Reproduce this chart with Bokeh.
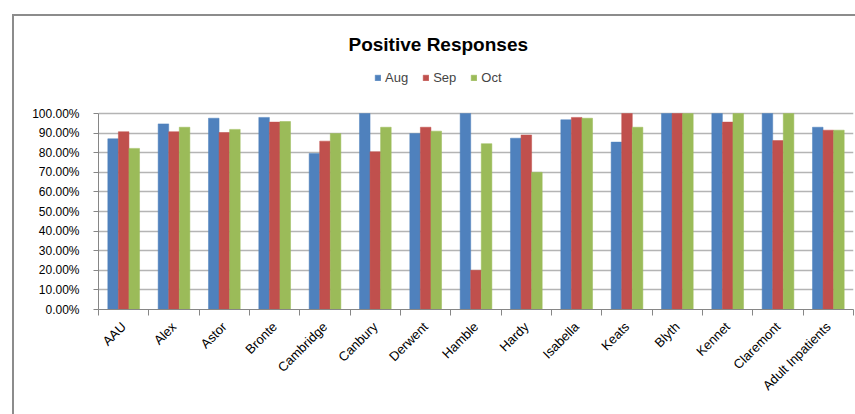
import numpy as np
from bokeh.plotting import figure
from bokeh.models import ColumnDataSource, Range1d, FixedTicker, NumeralTickFormatter, Legend, LegendItem
from bokeh.transform import dodge
from bokeh.embed import file_html
from bokeh.resources import INLINE

wards = ["AAU", "Alex", "Astor", "Bronte", "Cambridge", "Canbury", "Derwent", "Hamble",
         "Hardy", "Isabella", "Keats", "Blyth", "Kennet", "Claremont", "Adult Inpatients"]
aug = [0.871, 0.947, 0.976, 0.980, 0.796, 1.000, 0.898, 1.000, 0.874, 0.968, 0.854, 1.000, 1.000, 1.000, 0.930]
sep = [0.907, 0.907, 0.903, 0.956, 0.859, 0.805, 0.930, 0.200, 0.890, 0.980, 1.000, 1.000, 0.956, 0.862, 0.915]
oct_ = [0.822, 0.930, 0.919, 0.959, 0.898, 0.930, 0.910, 0.846, 0.700, 0.976, 0.930, 1.000, 1.000, 1.000, 0.915]
series_names = ["Aug", "Sep", "Oct"]
colors = ["#4F81BD", "#C0504D", "#9BBB59"]
y_ticks = [i / 10 for i in range(11)]

xpos = np.arange(len(wards)) + 0.5
src = ColumnDataSource(dict(x=xpos, Aug=aug, Sep=sep, Oct=oct_))

FONT = "Liberation Sans"

p = figure(width=843, height=400, output_backend="svg", toolbar_location=None,
           x_range=Range1d(0, len(wards)), y_range=Range1d(0, 1.25),
           min_border_left=84, min_border_right=4, min_border_bottom=107, min_border_top=48)
p.margin = (14, 0, 0, 12)
p.styles = {"border-left": "2px solid #8c8c8c", "border-top": "2px solid #8c8c8c"}

bw = 0.21
items = []
for i, (name, col) in enumerate(zip(series_names, colors)):
    r = p.vbar(x=dodge("x", (i - 1) * bw, range=p.x_range), top=name, width=bw, bottom=0,
               source=src, fill_color=col, line_color=col, line_width=0.5)
    items.append(LegendItem(label=name, renderers=[r]))

p.title.text = "Positive Responses"
p.title.align = "left"
p.title.offset = 250
p.title.text_font = FONT
p.title.text_font_size = "19px"
p.title.text_font_style = "bold"
p.title.text_color = "#000000"
p.title.standoff = 20

legend = Legend(items=items, orientation="horizontal", location=(276, 224),
                label_text_font=FONT, label_text_font_size="13px",
                glyph_width=7, glyph_height=7, spacing=14, label_standoff=4,
                border_line_color=None, background_fill_alpha=0, padding=0, margin=0)
p.add_layout(legend)

# y axis
p.yaxis.ticker = FixedTicker(ticks=y_ticks)
p.yaxis.bounds = (y_ticks[0], y_ticks[-1])
p.yaxis.formatter = NumeralTickFormatter(format="0.00%")
p.yaxis.major_label_text_font = FONT
p.yaxis.major_label_text_font_size = "12px"
p.yaxis.major_label_text_color = "#000000"
p.yaxis.axis_line_color = "#868686"
p.yaxis.major_tick_line_color = "#868686"
p.yaxis.major_tick_out = 5
p.yaxis.major_tick_in = 0
p.yaxis.minor_tick_line_color = None
p.yaxis.major_label_standoff = 14

# x axis
p.xaxis.ticker = FixedTicker(ticks=list(xpos), minor_ticks=list(range(len(wards) + 1)))
p.xaxis.major_label_overrides = {float(x): w for x, w in zip(xpos, wards)}
p.xaxis.major_label_orientation = np.pi / 4
p.xaxis.major_label_text_font = FONT
p.xaxis.major_label_text_font_size = "13px"
p.xaxis.major_label_text_color = "#000000"
p.xaxis.axis_line_color = "#868686"
p.xaxis.major_tick_out = 0
p.xaxis.major_tick_in = 0
p.xaxis.minor_tick_out = 6
p.xaxis.minor_tick_in = 0
p.xaxis.minor_tick_line_color = "#868686"
p.xaxis.major_label_standoff = 9

p.xgrid.grid_line_color = None
p.ygrid.grid_line_color = "#b4b4b4"
p.ygrid.grid_line_width = 1.5
p.outline_line_color = None
p.background_fill_color = "white"
p.border_fill_color = "white"

open("out.html", "w").write(file_html(p, INLINE))
